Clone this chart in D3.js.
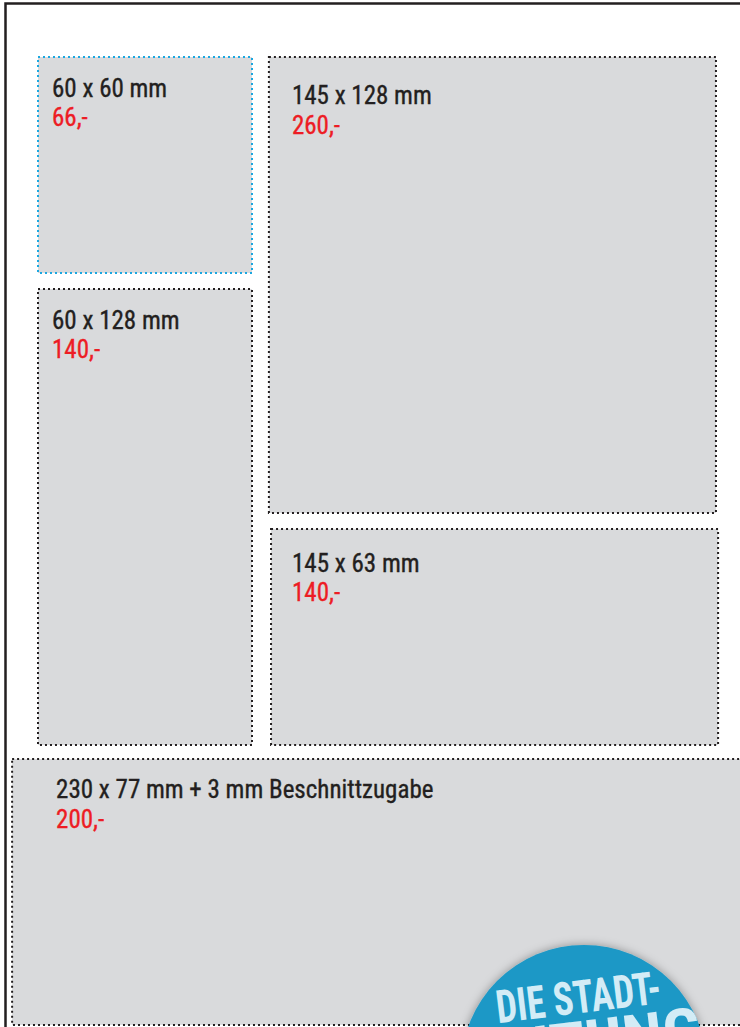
<!DOCTYPE html>
<html><head><meta charset="utf-8">
<script src="https://cdn.jsdelivr.net/npm/d3@7"></script>
<style>html,body{margin:0;padding:0;background:#fff;overflow:hidden}</style>
</head><body>
<script>
// ---- data ----
const sizes  = ["60 x 60 mm", "145 x 128 mm", "60 x 128 mm", "145 x 63 mm", "230 x 77 mm + 3 mm Beschnittzugabe"];
const prices = ["66,-", "260,-", "140,-", "140,-", "200,-"];
const highlight = [true, false, false, false, false];
// layout grid (column / row boundaries in layout units)
const colStart = [0, 1.079, 0, 1.089, -0.121];
const colEnd   = [1, 3.168, 1, 3.178, 3.4];
const rowStart = [0, 0, 1.074, 2.185, 3.25];
const rowEnd   = [1, 2.111, 3.185, 3.185, 4.481];
const badgeLines = ["DIE STADT-", "ZEITUNG"];

const W = 740, H = 1027;
const svg = d3.select("body").append("svg").attr("width", W).attr("height", H);

const x = d3.scaleLinear().domain([0, 1]).range([38, 252]);
const y = d3.scaleLinear().domain([0, 1]).range([57, 273]);

// page frame
svg.append("path").attr("d", `M5.5,${H} V3.5 H${W}`).attr("fill", "none")
  .attr("stroke", "#231f20").attr("stroke-width", 2.5);

const boxes = sizes.map((s, i) => ({s, p: prices[i], hl: highlight[i],
  x0: colStart[i], x1: colEnd[i], y0: rowStart[i], y1: rowEnd[i]}));

const g = svg.selectAll("g.box").data(boxes).join("g").attr("class", "box");
g.append("rect")
  .attr("x", d => x(d.x0)).attr("y", d => y(d.y0))
  .attr("width", d => x(d.x1) - x(d.x0)).attr("height", d => y(d.y1) - y(d.y0))
  .attr("fill", "#d9dadc")
  .attr("stroke", d => d.hl ? "#1aa7e0" : "#231f20")
  .attr("stroke-width", 2).attr("stroke-dasharray", "2 3");

const padX = [14, 23, 14, 21, 44];
const padY = [39.5, 47, 40, 43, 39];
const font = "'Roboto Condensed','Roboto',sans-serif";
g.append("text")
  .attr("x", (d, i) => x(d.x0) + padX[i])
  .attr("y", (d, i) => y(d.y0) + padY[i])
  .attr("font-family", font).attr("font-size", 25).attr("fill", "#231f20")
  .attr("stroke", "#231f20").attr("stroke-width", 0.35)
  .text(d => d.s);
g.append("text")
  .attr("x", (d, i) => x(d.x0) + padX[i])
  .attr("y", (d, i) => y(d.y0) + padY[i] + 29.5)
  .attr("font-family", font).attr("font-size", 25).attr("fill", "#ed1c24")
  .attr("stroke", "#ed1c24").attr("stroke-width", 0.35)
  .text(d => d.p);

// badge
const defs = svg.append("defs");
const f = defs.append("filter").attr("id", "sh").attr("x", "-30%").attr("y", "-30%").attr("width", "160%").attr("height", "160%");
f.append("feDropShadow").attr("dx", 0).attr("dy", 0).attr("stdDeviation", 5)
  .attr("flood-color", "#000").attr("flood-opacity", 0.35);
const badge = svg.append("g").attr("transform", "translate(584,1068)");
badge.append("circle").attr("r", 123).attr("fill", "#1b98c6").attr("filter", "url(#sh)");
const bt = badge.append("g").attr("transform", "rotate(-7)");
const bfont = "'Roboto Condensed','Roboto',sans-serif";
bt.append("text").attr("x", 3).attr("y", -55).attr("text-anchor", "middle")
  .attr("font-family", bfont).attr("font-weight", "bold").attr("font-size", 46)
  .attr("textLength", 166).attr("lengthAdjust", "spacingAndGlyphs")
  .attr("fill", "#d3ecf6").text(badgeLines[0]);
bt.append("text").attr("x", 3).attr("y", -3).attr("text-anchor", "middle")
  .attr("font-family", bfont).attr("font-weight", "bold").attr("font-size", 62)
  .attr("textLength", 236).attr("lengthAdjust", "spacingAndGlyphs")
  .attr("fill", "#d3ecf6").text(badgeLines[1]);
</script>
</body></html>
